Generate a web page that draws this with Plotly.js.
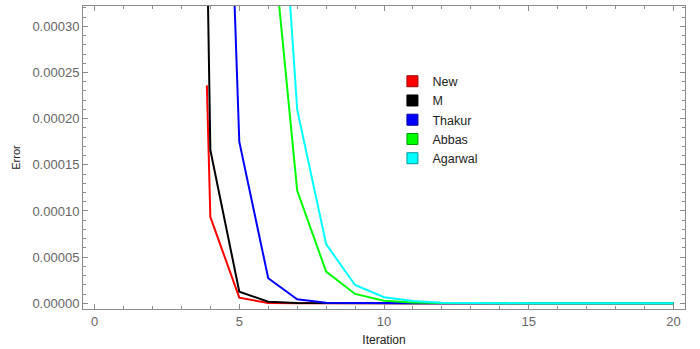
<!DOCTYPE html>
<html>
<head>
<meta charset="utf-8">
<script src="https://cdn.plot.ly/plotly-3.0.1.min.js"></script>
<style>
  html, body { margin: 0; padding: 0; background: #fff; }
  #chart { width: 700px; height: 349px; }
</style>
</head>
<body>
<div id="chart"></div>
<script>
// Error per iteration for each method
let newIter = [3.88, 4, 5, 6, 7, 8, 9, 10, 11, 12, 13, 14, 15, 16, 17, 18, 19, 20];
let newErr = [0.000236, 0.0000935, 0.0000061, 0.0000002, 0, 0, 0, 0, 0, 0, 0, 0, 0, 0, 0, 0, 0, 0];

let mIter = [3, 4, 5, 6, 7, 8, 9, 10, 11, 12, 13, 14, 15, 16, 17, 18, 19, 20];
let mErr = [0.00212, 0.000166, 0.0000126, 0.0000017, 0.0000002, 0, 0, 0, 0, 0, 0, 0, 0, 0, 0, 0, 0, 0];

let thakurIter = [4, 5, 6, 7, 8, 9, 10, 11, 12, 13, 14, 15, 16, 17, 18, 19, 20];
let thakurErr = [0.00109, 0.000175, 0.0000271, 0.0000043, 0.0000005, 0.0000001, 0, 0, 0, 0, 0, 0, 0, 0, 0, 0, 0];

let abbasIter = [6, 7, 8, 9, 10, 11, 12, 13, 14, 15, 16, 17, 18, 19, 20];
let abbasErr = [0.000445, 0.000122, 0.0000343, 0.0000101, 0.0000028, 0.0000008, 0.0000002, 0, 0, 0, 0, 0, 0, 0, 0];

let agarwalIter = [6, 7, 8, 9, 10, 11, 12, 13, 14, 15, 16, 17, 18, 19, 20];
let agarwalErr = [0.000677, 0.00021, 0.000064, 0.0000198, 0.0000065, 0.0000025, 0.0000007, 0.0000002, 0, 0, 0, 0, 0, 0, 0];

let names = ["New", "M", "Thakur", "Abbas", "Agarwal"];
let colors = ["#ff0000", "#000000", "#0000ff", "#00ff00", "#00ffff"];
let borders = ["#990000", "#000000", "#000099", "#009900", "#009999"];
let xs = [newIter, mIter, thakurIter, abbasIter, agarwalIter];
let ys = [newErr, mErr, thakurErr, abbasErr, agarwalErr];

let traces = [];
names.forEach((name, i) => {
    // the line itself
    traces.push({
        x: xs[i], y: ys[i],
        type: "scatter", mode: "lines",
        name: name, showlegend: false,
        line: { color: colors[i], width: 2 },
        hoverinfo: "skip"
    });
    // square swatch for the legend
    traces.push({
        x: [null], y: [null],
        type: "scatter", mode: "markers",
        name: name, showlegend: true,
        marker: { symbol: "square", size: 11, color: colors[i], line: { color: borders[i], width: 1 } }
    });
});

let frame = "#8c8c8c";
let layout = {
    width: 700, height: 349,
    margin: { l: 83, r: 15, t: 6, b: 40 },
    paper_bgcolor: "#fff", plot_bgcolor: "#fff",
    font: { family: "Liberation Sans, Arial, sans-serif", size: 13, color: "#666" },
    showlegend: true,
    legend: {
        x: 0.514, xanchor: "left", y: 0.80, yanchor: "top",
        tracegroupgap: 0,
        font: { size: 12.5, color: "#222" },
        bgcolor: "rgba(0,0,0,0)"
    },
    xaxis: {
        range: [-0.4, 20.4],
        tickvals: [0, 5, 10, 15, 20],
        ticks: "inside", ticklen: 5, tickcolor: frame,
        minor: { dtick: 1, ticks: "inside", ticklen: 3, tickcolor: frame },
        showline: true, linecolor: frame, linewidth: 1, mirror: "ticks",
        showgrid: false, zeroline: false,
        title: { text: "Iteration", font: { size: 12, color: "#222" }, standoff: 8 }
    },
    yaxis: {
        range: [-0.0000062, 0.000322],
        tick0: 0, dtick: 0.00005, tickformat: ".5f",
        ticks: "inside", ticklen: 5, tickcolor: frame,
        minor: { dtick: 0.00001, ticks: "inside", ticklen: 3, tickcolor: frame },
        showline: true, linecolor: frame, linewidth: 1, mirror: "ticks",
        showgrid: false, zeroline: false,
        title: { text: "Error", font: { size: 11, color: "#222" }, standoff: 9 }
    }
};

Plotly.newPlot("chart", traces, layout, { displayModeBar: false, staticPlot: true });
</script>
</body>
</html>
